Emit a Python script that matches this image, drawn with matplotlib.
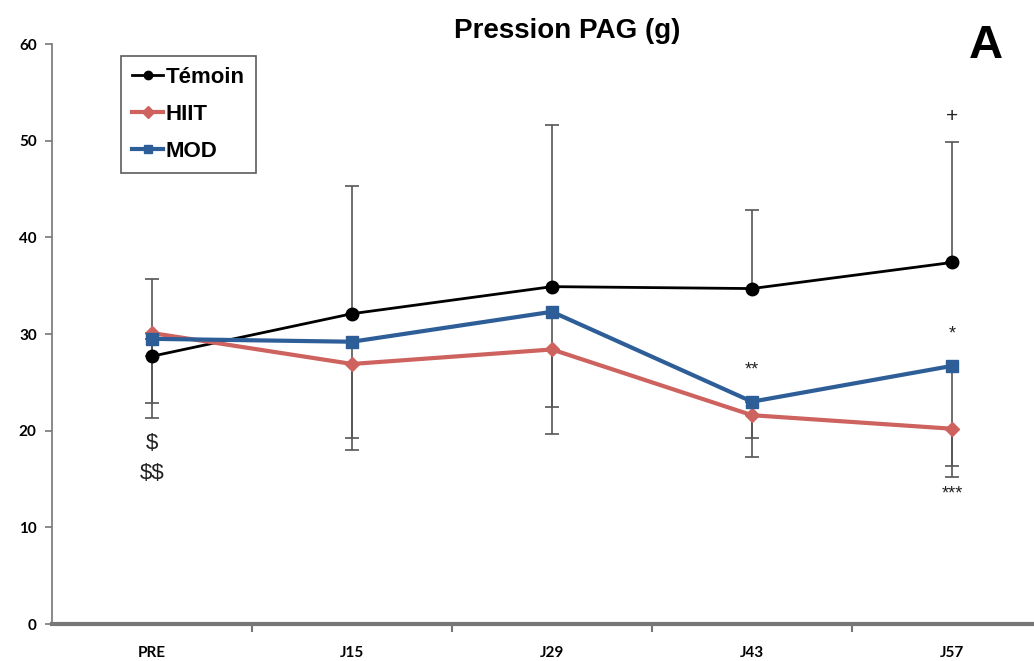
import matplotlib
matplotlib.use('Agg')
import matplotlib.pyplot as plt
import numpy as np

# valeurs
categories = ["PRE", "J15", "J29", "J43", "J57"]
temoin = [27.7, 32.1, 34.9, 34.7, 37.4]
temoin_sd = [8.0, 13.2, 16.7, 8.1, 12.5]
hiit = [30.1, 26.9, 28.4, 21.6, 20.2]
hiit_sd = [8.8, 8.9, 8.7, 4.3, 5.0]
mod = [29.5, 29.2, 32.3, 23.0, 26.7]
mod_sd = [6.6, 10.0, 9.8, 3.8, 10.4]

x = np.arange(len(categories))
zeros = np.zeros(len(categories))

fig = plt.figure(figsize=(10.34, 6.61), dpi=100)
ax = fig.add_axes([52 / 1034, 37 / 661, 1000 / 1034, 580 / 661])

err_kw = dict(fmt='none', ecolor='#555555', elinewidth=1.2, capsize=5, capthick=1.2, zorder=1)
ax.errorbar(x, temoin, yerr=[zeros, temoin_sd], **err_kw)
ax.errorbar(x, hiit, yerr=[hiit_sd, zeros], **err_kw)
ax.errorbar(x, mod, yerr=[mod_sd, zeros], **err_kw)

ax.plot(x, temoin, color='black', lw=2, marker='o', ms=9, label='Témoin', zorder=3)
ax.plot(x, hiit, color='#CD625E', lw=3, marker='D', ms=7, label='HIIT', zorder=3)
ax.plot(x, mod, color='#2E5E98', lw=3, marker='s', ms=8, label='MOD', zorder=4)

ax.set_xlim(-0.5, 4.5)
ax.set_ylim(0, 60)
ax.set_yticks(range(0, 61, 10))
ax.set_xticks(x + 0.5, minor=False)
ax.set_xticklabels([])
ax.set_xticks(x, minor=True)
ax.set_xticklabels(categories, minor=True)
ax.tick_params(axis='x', which='minor', length=0, pad=16, labelsize=11)
ax.tick_params(axis='x', which='major', length=6, color='#777777', width=1.5, direction='out')
ax.tick_params(axis='y', length=5, color='#777777', width=1.2, labelsize=11, pad=6)
for lab in ax.get_xticklabels(minor=True) + ax.get_yticklabels():
    lab.set_fontfamily('Lato')
    lab.set_fontweight('bold')

for s in ['top', 'right']:
    ax.spines[s].set_visible(False)
ax.spines['left'].set_color('#777777')
ax.spines['left'].set_linewidth(1.2)
ax.spines['bottom'].set_color('#777777')
ax.spines['bottom'].set_linewidth(3)

ax.set_title("Pression PAG (g)", fontsize=20, fontweight='bold', family='Liberation Sans', pad=-7, x=0.515)
fig.text(0.953, 0.93, "A", fontsize=34, fontweight='bold', family='Liberation Sans', ha='center', va='center')

# annotations de significativité
notes = [(0, 18.7, "$", 16), (0, 15.6, "$$", 16), (3, 26.3, "**", 13), (4, 52.5, "+", 15),
         (4, 30.0, "*", 13), (4, 13.5, "***", 13)]
for xi, yi, txt, fs in notes:
    ax.text(xi, yi, txt, ha='center', va='center', fontsize=fs, family='Liberation Sans',
            color='#222222', parse_math=False)

leg = ax.legend(loc='upper left', bbox_to_anchor=(69 / 1000, 0.98), frameon=True, fancybox=False,
                prop={'family': 'Liberation Sans', 'weight': 'bold', 'size': 16},
                handlelength=1.4, handletextpad=0.1, labelspacing=0.72, borderpad=0.5,
                borderaxespad=0)
leg.get_frame().set_edgecolor('#333333')
leg.get_frame().set_linewidth(1.2)
for h in leg.legend_handles:
    h.set_markersize(6)

fig.savefig('out.png', dpi=100)
